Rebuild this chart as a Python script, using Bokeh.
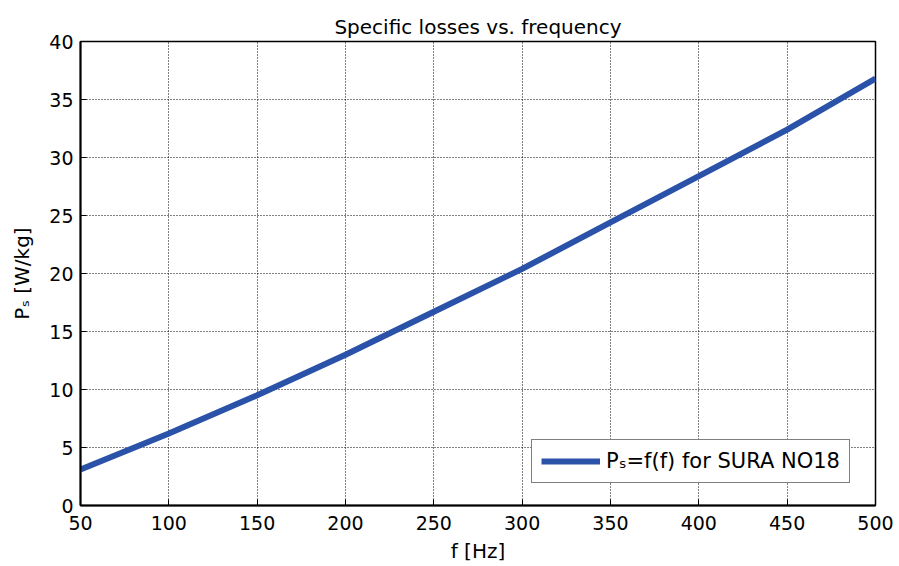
from bokeh.plotting import figure
from bokeh.models import Range1d, FixedTicker, Legend, LegendItem
from bokeh.embed import file_html
from bokeh.resources import INLINE

# data
freq = [50, 100, 150, 200, 250, 300, 350, 400, 450, 500]
ps = [3.1, 6.2, 9.5, 13.0, 16.7, 20.4, 24.4, 28.4, 32.4, 36.8]
x_ticks = [50, 100, 150, 200, 250, 300, 350, 400, 450, 500]
y_ticks = [0, 5, 10, 15, 20, 25, 30, 35, 40]

title_text = "Specific losses vs. frequency"
x_label = "f [Hz]"
y_label = "Pₛ [W/kg]"
legend_label = "Pₛ=f(f) for SURA NO18"

FONT = "DejaVu Sans"

p = figure(width=899, height=566, output_backend="svg", toolbar_location=None,
           x_range=Range1d(50, 500), y_range=Range1d(0, 40),
           min_border_left=80, min_border_right=24, min_border_top=41,
           min_border_bottom=61)
p.background_fill_color = "white"
p.border_fill_color = "white"
p.outline_line_color = "black"
p.outline_line_width = 1.5

p.title.text = title_text
p.title.align = "center"
p.title.text_font = FONT
p.title.text_font_size = "20px"
p.title.text_font_style = "normal"
p.title.text_color = "black"
p.title.standoff = 6

for ax in (p.xaxis[0], p.yaxis[0]):
    ax.axis_line_color = "black"
    ax.axis_line_width = 2
    ax.major_tick_in = 6
    ax.major_tick_out = 0
    ax.major_tick_line_color = "black"
    ax.minor_tick_line_color = None
    ax.major_label_text_font = FONT
    ax.major_label_text_font_size = "19px"
    ax.major_label_text_color = "black"
    ax.axis_label_text_font = FONT
    ax.axis_label_text_font_size = "20px"
    ax.axis_label_text_font_style = "normal"
    ax.axis_label_text_color = "black"

p.xaxis[0].ticker = FixedTicker(ticks=x_ticks)
p.yaxis[0].ticker = FixedTicker(ticks=y_ticks)
p.xaxis[0].axis_label = x_label
p.yaxis[0].axis_label = y_label
p.xaxis[0].major_label_standoff = 10
p.yaxis[0].major_label_standoff = 7
p.xaxis[0].axis_label_standoff = 6
p.yaxis[0].axis_label_standoff = 12

for g in (p.xgrid[0], p.ygrid[0]):
    g.grid_line_color = "black"
    g.grid_line_width = 1
    g.grid_line_dash = "1 2"
    g.grid_line_alpha = 1.0

r = p.line(freq, ps, line_color="#2A52A8", line_width=6)

legend = Legend(items=[LegendItem(label=legend_label, renderers=[r])],
                location=(451, 22))
legend.label_text_font = FONT
legend.label_text_font_size = "21px"
legend.label_text_color = "black"
legend.glyph_width = 59
legend.glyph_height = 24
legend.label_standoff = 6
legend.padding = 9
legend.margin = 0
legend.spacing = 0
legend.border_line_color = "black"
legend.border_line_width = 1.5
legend.background_fill_color = "white"
legend.background_fill_alpha = 1
p.add_layout(legend)

open("out.html", "w").write(file_html(p, INLINE))
